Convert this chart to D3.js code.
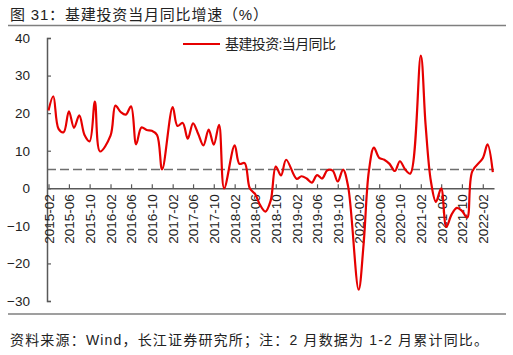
<!DOCTYPE html>
<html>
<head>
<meta charset="utf-8">
<script src="https://cdn.jsdelivr.net/npm/d3@7/dist/d3.min.js"></script>
<style>
  html, body { margin: 0; padding: 0; background: #fff; }
  svg { display: block; }
  text { font-family: "Liberation Sans", Arial, "Noto Sans CJK SC", sans-serif; }
</style>
</head>
<body>
<script>
// ---- data ----
const months = [
  "2015-02","2015-03","2015-04","2015-05","2015-06","2015-07","2015-08","2015-09","2015-10","2015-11","2015-12",
  "2016-02","2016-03","2016-04","2016-05","2016-06","2016-07","2016-08","2016-09","2016-10","2016-11","2016-12",
  "2017-02","2017-03","2017-04","2017-05","2017-06","2017-07","2017-08","2017-09","2017-10","2017-11","2017-12",
  "2018-02","2018-03","2018-04","2018-05","2018-06","2018-07","2018-08","2018-09","2018-10","2018-11","2018-12",
  "2019-02","2019-03","2019-04","2019-05","2019-06","2019-07","2019-08","2019-09","2019-10","2019-11","2019-12",
  "2020-02","2020-03","2020-04","2020-05","2020-06","2020-07","2020-08","2020-09","2020-10","2020-11","2020-12",
  "2021-02","2021-03","2021-04","2021-05","2021-06","2021-07","2021-08","2021-09","2021-10","2021-11","2021-12",
  "2022-02","2022-03","2022-04"
];
const values = [
  20.7, 24.5, 15.8, 14.9, 20.5, 16.1, 19.4, 14.2, 12.5, 23.1, 9.8,
  14.0, 22.0, 20.3, 19.6, 21.8, 11.7, 16.2, 15.5, 15.3, 14.2, 5.0,
  21.6, 16.6, 17.4, 13.2, 17.3, 14.5, 11.4, 15.6, 11.6, 16.9, 0.0,
  11.4, 6.5, 6.7, 0.0, -1.5, -4.5, -6.2, -3.3, 5.8, 3.4, 7.6,
  2.5, 3.2, 2.6, 1.5, 3.5, 2.6, 4.8, 4.7, 1.8, 5.0, 0.5,
  -27.0, -15.0, 4.5, 10.8, 8.1, 7.6, 6.5, 4.6, 7.2, 5.0, 3.9,
  35.3, 17.0, 2.0, -3.6, 0.0, -10.3, -7.0, -5.2, -6.0, -7.8, 4.5,
  8.0, 11.7, 4.3
];
const refValue = 5;
const xTickLabels = [
  "2015-02","2015-06","2015-10","2016-02","2016-06","2016-10","2017-02","2017-06","2017-10",
  "2018-02","2018-06","2018-10","2019-02","2019-06","2019-10","2020-02","2020-06","2020-10",
  "2021-02","2021-06","2021-10","2022-02"
];
const yTicks = [40, 30, 20, 10, 0, -10, -20, -30];
const seriesName = "基建投资:当月同比";
const titleText = "图 31：基建投资当月同比增速（%）";
const sourceText = "资料来源：Wind，长江证券研究所；注：2 月数据为 1-2 月累计同比。";

// ---- layout ----
const W = 513, H = 355;
const parse = d3.timeParse("%Y-%m");
const data = months.map((m, i) => ({ date: parse(m), value: values[i] }));

const svg = d3.select("body").append("svg").attr("width", W).attr("height", H);

const x = d3.scaleTime()
  .domain([new Date(2015, 0, 23), new Date(2022, 3, 8)])
  .range([47, 494]);
const y = d3.scaleLinear().domain([-30, 40]).range([301, 38]);

// title
svg.append("text")
  .attr("x", 10).attr("y", 20)
  .attr("font-size", 15).attr("fill", "#222")
  .attr("textLength", 258).attr("lengthAdjust", "spacing")
  .text(titleText);
svg.append("line").attr("x1", 8).attr("x2", 506).attr("y1", 25.5).attr("y2", 25.5)
  .attr("stroke", "#7f7f7f").attr("stroke-width", 1.6);

// footer
svg.append("line").attr("x1", 8).attr("x2", 506).attr("y1", 314).attr("y2", 314)
  .attr("stroke", "#7f7f7f").attr("stroke-width", 1.6);
svg.append("text")
  .attr("x", 10).attr("y", 345)
  .attr("font-size", 14).attr("fill", "#222")
  .attr("textLength", 478).attr("lengthAdjust", "spacing")
  .text(sourceText);

// reference dashed line
svg.append("line")
  .attr("x1", x.range()[0]).attr("x2", x.range()[1])
  .attr("y1", y(refValue)).attr("y2", y(refValue))
  .attr("stroke", "#6e6e6e").attr("stroke-width", 1.5)
  .attr("stroke-dasharray", "9,4");

// y axis
const yAxis = d3.axisLeft(y).tickValues(yTicks).tickSize(-4).tickPadding(17)
  .tickFormat(d3.format("d"));
const gy = svg.append("g").attr("transform", `translate(${x.range()[0]},0)`).call(yAxis);
gy.select(".domain").attr("stroke", "#595959").attr("stroke-width", 1.5);
gy.selectAll(".tick line").attr("stroke", "#595959").attr("stroke-width", 1.2);
gy.selectAll(".tick text").attr("font-size", 13.5).attr("fill", "#222")
  .attr("font-family", "'Liberation Sans', Arial, sans-serif");

// x axis at zero
const tickDates = xTickLabels.map(parse);
const xAxis = d3.axisBottom(x).tickValues(tickDates).tickSize(-4).tickSizeOuter(0)
  .tickFormat(d3.timeFormat("%Y-%m"));
const gx = svg.append("g").attr("transform", `translate(0,${y(0)})`).call(xAxis);
gx.select(".domain").attr("stroke", "#595959").attr("stroke-width", 1.5);
gx.selectAll(".tick line").attr("stroke", "#595959").attr("stroke-width", 1.2);
gx.selectAll(".tick text")
  .attr("font-size", 13.5).attr("fill", "#222")
  .attr("font-family", "'Liberation Sans', Arial, sans-serif")
  .attr("text-anchor", "end")
  .attr("transform", "rotate(-90)")
  .attr("x", -6).attr("y", 0).attr("dy", "0.36em");

// series line
const line = d3.line()
  .x(d => x(d.date)).y(d => y(d.value))
  .curve(d3.curveCatmullRom.alpha(0.5));
svg.append("path").datum(data)
  .attr("d", line)
  .attr("fill", "none")
  .attr("stroke", "#e60000")
  .attr("stroke-width", 2.2)
  .attr("stroke-linejoin", "round");

// legend
svg.append("line").attr("x1", 183).attr("x2", 220).attr("y1", 44).attr("y2", 44)
  .attr("stroke", "#e60000").attr("stroke-width", 2.2);
svg.append("text").attr("x", 225).attr("y", 49)
  .attr("font-size", 14).attr("fill", "#222")
  .attr("textLength", 111).attr("lengthAdjust", "spacing")
  .text(seriesName);
</script>
</body>
</html>
